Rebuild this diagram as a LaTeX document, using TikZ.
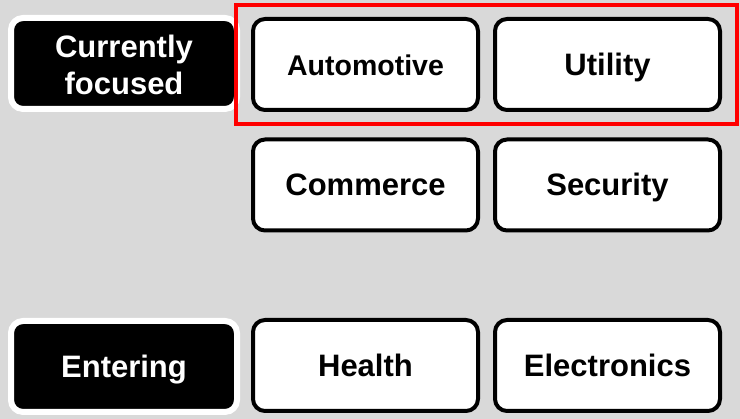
\documentclass[tikz,border=0pt]{standalone}
\usepackage{fontspec}
\setmainfont{Liberation Sans}
\usepackage{tikz}
\usetikzlibrary{shadows}

\definecolor{backgray}{HTML}{D9D9D9}
\definecolor{framered}{HTML}{FF0000}

\tikzset{
	boxfont/.style={font=\bfseries\fontsize{31}{37}\selectfont},
	capline/.style={text height=22pt, text depth=0pt},
	field/.style={boxfont, capline, draw=black, line width=4pt, fill=white,
		rounded corners=12pt, minimum width=225pt, minimum height=91pt,
		align=center, inner sep=0pt},
	stage/.style={boxfont, capline, draw=white, line width=6pt, fill=black,
		text=white, rounded corners=12pt, minimum width=226pt,
		minimum height=91pt, align=center, inner sep=0pt,
		drop shadow={shadow xshift=0pt, shadow yshift=-3pt, opacity=0.25}},
}

\begin{document}
\begin{tikzpicture}[x=1pt, y=-1pt]

	\fill[backgray] (0,0) rectangle (740,419);
	\useasboundingbox (0,0) rectangle (740,419);

	\node[stage, text height=63pt] (cur) at (124,63.5) {Currently\\focused};
	\node[stage] (ent) at (124,366.5) {Entering};

	\node[field, font=\bfseries\fontsize{28.5}{34}\selectfont] (auto)
		at (365.5,64.5) {Automotive};
	\node[field] (util) at (607.5,64.5) {Utility};
	\node[field] (comm) at (365.5,185) {Commerce};
	\node[field] (secu) at (607.5,185) {Security};
	\node[field] (heal) at (365.5,365.5) {Health};
	\node[field] (elec) at (607.5,365.5) {Electronics};

	% highlight of the current row
	\draw[framered, line width=4pt] (236,5) rectangle (736.5,124);
	\end{tikzpicture}
\end{document}
